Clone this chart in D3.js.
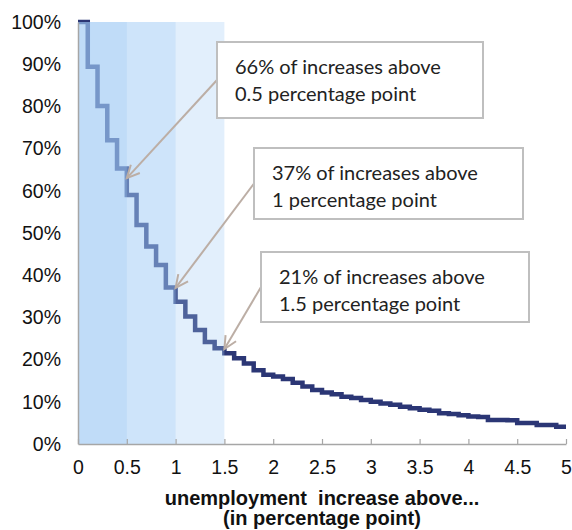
<!DOCTYPE html>
<html>
<head>
<meta charset="utf-8">
<script src="https://cdn.jsdelivr.net/npm/d3@7"></script>
<style>
  html, body { margin: 0; padding: 0; background: #ffffff; }
  svg { display: block; }
</style>
</head>
<body>
<div id="chart"></div>
<script>
// ---------------- data ----------------
const thresholds = [0.0,0.1,0.2,0.3,0.4,0.5,0.6,0.7,0.8,0.9,
                    1.0,1.1,1.2,1.3,1.4,1.5,1.6,1.7,1.8,1.9,
                    2.0,2.1,2.2,2.3,2.4,2.5,2.6,2.7,2.8,2.9,
                    3.0,3.1,3.2,3.3,3.4,3.5,3.6,3.7,3.8,3.9,
                    4.0,4.1,4.2,4.3,4.4,4.5,4.6,4.7,4.8,4.9,5.0];
const shareAbove = [100,89.4,80.1,72.0,65.3,59.0,51.9,46.8,42.4,37.1,
                    33.7,30.2,27.0,24.2,22.7,21.5,20.3,19.1,17.5,16.4,
                    16.0,15.4,14.5,13.6,12.8,12.2,11.8,11.2,10.9,10.4,
                    10.0,9.6,9.3,8.8,8.5,8.1,7.9,7.3,7.1,6.8,
                    6.5,6.4,5.7,5.7,5.6,5.0,5.0,4.5,4.5,4.1,4.1];
const xTicks = [0,0.5,1,1.5,2,2.5,3,3.5,4,4.5,5];
const xTickLabels = ["0","0.5","1","1.5","2","2.5","3","3.5","4","4.5","5"];
const yTicks = [0,10,20,30,40,50,60,70,80,90,100];
const yTickLabels = ["0%","10%","20%","30%","40%","50%","60%","70%","80%","90%","100%"];
const bandEnds = [0.5, 1, 1.5];
const annotationLine1 = ["66% of increases above","37% of increases above","21% of increases above"];
const annotationLine2 = ["0.5 percentage point","1 percentage point","1.5 percentage point"];
const annotationTargetX = [0.5, 1.0, 1.5];
const annotationTargetY = [63, 37, 22.5];
const titleLines = ["unemployment  increase above...", "(in percentage point)"];

// ---------------- layout ----------------
const W = 572, H = 530;
const plot = { left: 78, right: 566, top: 22, bottom: 444 };
const boxes = [
  { x: 217, y: 42,  w: 266, h: 76 },
  { x: 254, y: 148, w: 269, h: 71 },
  { x: 261, y: 252, w: 268, h: 70 }
];
const lineColor = "#2b3675";
const overlayColor = "rgb(160,202,244)";
const overlayOpacity = 0.3;
const arrowColor = "#bcaea5";

const svg = d3.select("#chart").append("svg")
  .attr("width", W).attr("height", H)
  .style("background", "#fff");

const x = d3.scaleLinear().domain([0, 5]).range([plot.left, plot.right]);
const y = d3.scaleLinear().domain([0, 100]).range([plot.bottom, plot.top]);

const data = thresholds.map((t, i) => ({ x: t, y: shareAbove[i] }));

// curve (drawn first, bands overlay it semi-transparently)
const line = d3.line().x(d => x(d.x)).y(d => y(d.y)).curve(d3.curveStepAfter);
svg.append("path")
  .datum(data)
  .attr("d", line)
  .attr("fill", "none")
  .attr("stroke", lineColor)
  .attr("stroke-width", 4.5)
  .attr("stroke-linejoin", "miter");

// shaded bands
svg.append("g").selectAll("rect")
  .data(bandEnds)
  .join("rect")
  .attr("x", x(0))
  .attr("y", y(100))
  .attr("width", d => x(d) - x(0))
  .attr("height", y(0) - y(100))
  .attr("fill", overlayColor)
  .attr("fill-opacity", overlayOpacity);

// y axis
const yAxis = d3.axisLeft(y)
  .tickValues(yTicks)
  .tickFormat((d, i) => yTickLabels[i])
  .tickSize(0)
  .tickPadding(17);
const gy = svg.append("g").attr("transform", `translate(${plot.left},0)`).call(yAxis);
gy.select(".domain").attr("stroke", "#a6a6a6").attr("stroke-width", 1.5);
gy.selectAll("text")
  .attr("font-family", "'Liberation Sans', Arial, sans-serif")
  .attr("font-size", 19.5)
  .attr("fill", "#111");

// x axis
const xAxis = d3.axisBottom(x)
  .tickValues(xTicks)
  .tickFormat((d, i) => xTickLabels[i])
  .tickSizeInner(-5)
  .tickSizeOuter(0)
  .tickPadding(16);
const gx = svg.append("g").attr("transform", `translate(0,${plot.bottom})`).call(xAxis);
gx.select(".domain").attr("stroke", "#a6a6a6").attr("stroke-width", 1.5);
gx.selectAll(".tick line").attr("stroke", "#a6a6a6").attr("stroke-width", 1.2);
gx.selectAll("text")
  .attr("font-family", "'Liberation Sans', Arial, sans-serif")
  .attr("font-size", 19.5)
  .attr("fill", "#111");

// axis title
const xc = (plot.left + plot.right) / 2;
svg.append("text")
  .attr("x", xc).attr("y", 505)
  .attr("text-anchor", "middle")
  .attr("font-family", "'Liberation Sans', Arial, sans-serif")
  .attr("font-weight", "bold")
  .attr("font-size", 20)
  .attr("fill", "#111")
  .style("white-space", "pre")
  .text(titleLines[0]);
svg.append("text")
  .attr("x", xc).attr("y", 525)
  .attr("text-anchor", "middle")
  .attr("font-family", "'Liberation Sans', Arial, sans-serif")
  .attr("font-weight", "bold")
  .attr("font-size", 20)
  .attr("fill", "#111")
  .text(titleLines[1]);

// annotations
const ann = svg.append("g");
annotationLine1.forEach((t1, i) => {
  const b = boxes[i];
  const sx = b.x, sy = b.y + b.h / 2;
  const tx = x(annotationTargetX[i]), ty = y(annotationTargetY[i]);
  ann.append("line")
    .attr("x1", sx).attr("y1", sy).attr("x2", tx).attr("y2", ty)
    .attr("stroke", arrowColor).attr("stroke-width", 2);
  const ang = Math.atan2(sy - ty, sx - tx);
  const L = 14, spread = 0.45;
  const p1 = [tx + L * Math.cos(ang + spread), ty + L * Math.sin(ang + spread)];
  const p2 = [tx + L * Math.cos(ang - spread), ty + L * Math.sin(ang - spread)];
  ann.append("path")
    .attr("d", `M${p1[0]},${p1[1]}L${tx},${ty}L${p2[0]},${p2[1]}`)
    .attr("fill", "none")
    .attr("stroke", arrowColor).attr("stroke-width", 2);
  ann.append("rect")
    .attr("x", b.x).attr("y", b.y).attr("width", b.w).attr("height", b.h)
    .attr("fill", "#fff").attr("stroke", "#bfbfbf").attr("stroke-width", 2);
  ann.append("text")
    .attr("x", b.x + 18).attr("y", b.y + 32)
    .attr("font-family", "Lato, 'Open Sans', sans-serif")
    .attr("font-size", 20).attr("fill", "#222")
    .text(t1);
  ann.append("text")
    .attr("x", b.x + 18).attr("y", b.y + 59)
    .attr("font-family", "Lato, 'Open Sans', sans-serif")
    .attr("font-size", 20).attr("fill", "#222")
    .text(annotationLine2[i]);
});
</script>
</body>
</html>
